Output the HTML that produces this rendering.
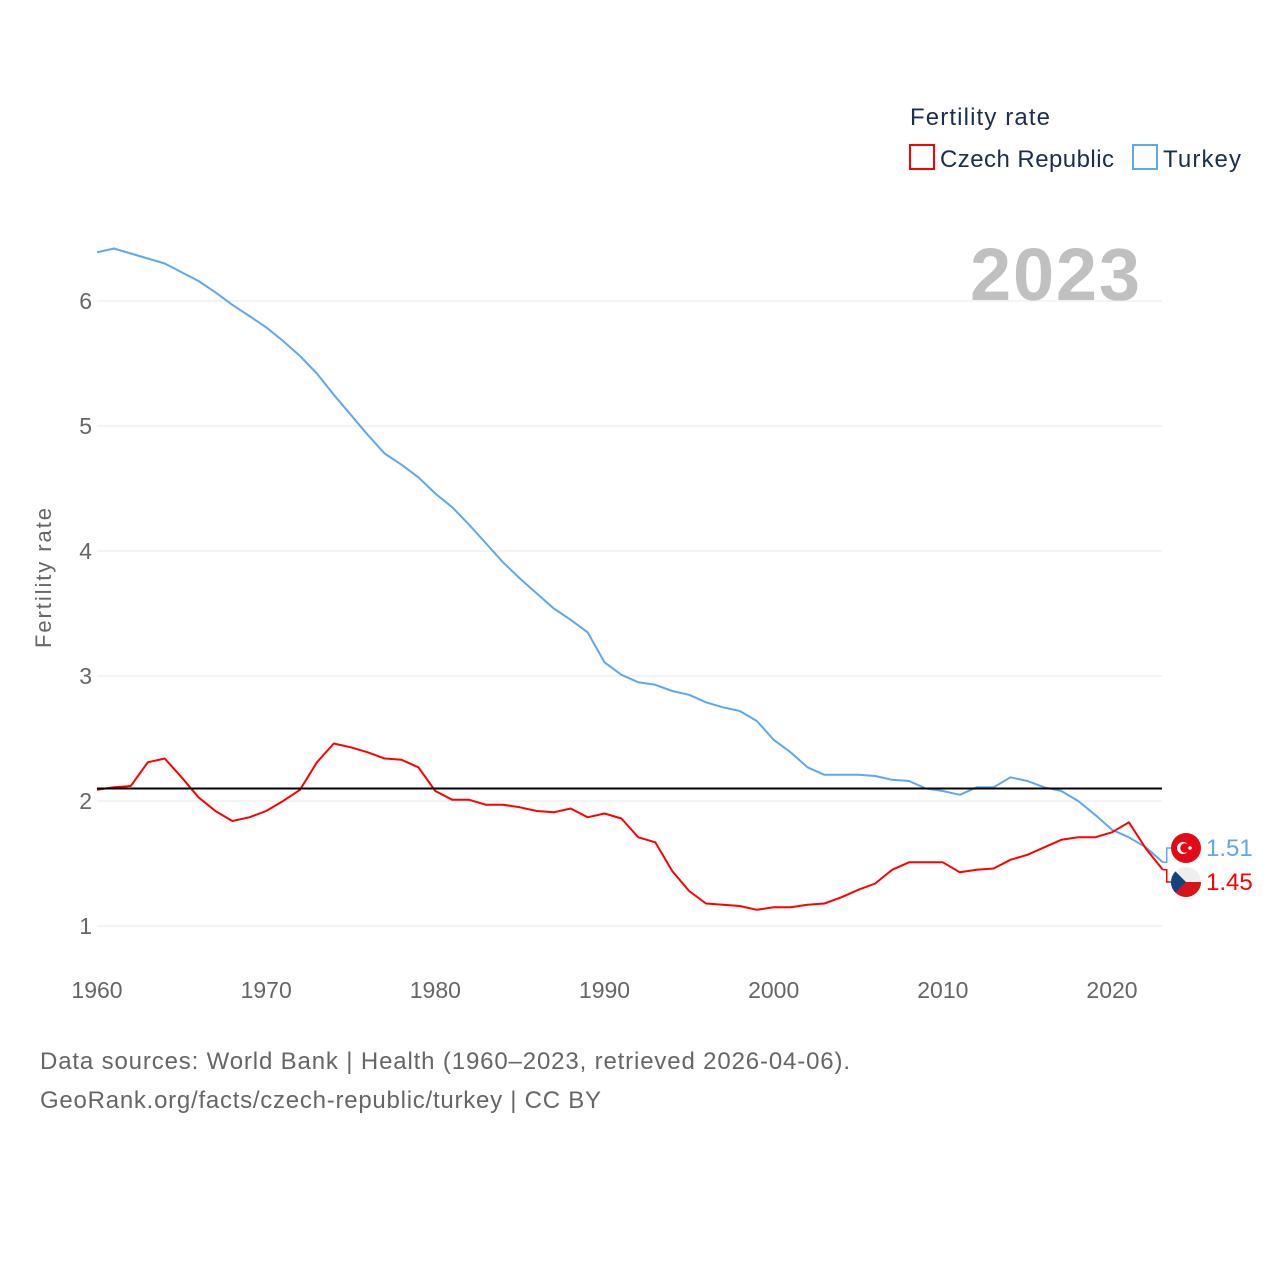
<!DOCTYPE html>
<html><head><meta charset="utf-8"><style>
html,body{margin:0;padding:0;background:#fff;width:1280px;height:1280px;overflow:hidden}
svg{display:block}
text{font-family:"Liberation Sans",sans-serif}
</style></head><body>
<svg id="chart" width="1280" height="1280">
<text x="910" y="125" font-size="24" fill="#1a2e4f" textLength="140">Fertility rate</text>
<rect x="910" y="145" width="24" height="24" fill="none" stroke="#ff0000" stroke-width="2"/>
<text x="940" y="167" font-size="24" fill="#1a2e4f" textLength="174">Czech Republic</text>
<rect x="1133" y="145" width="24" height="24" fill="none" stroke="#5ea8ec" stroke-width="2"/>
<text x="1163" y="167" font-size="24" fill="#1a2e4f" textLength="78">Turkey</text>
<text x="970" y="300" font-size="74" font-weight="bold" fill="#c0c0c0" textLength="170">2023</text>
<text transform="translate(51,578) rotate(-90)" font-size="22" fill="#666" text-anchor="middle" textLength="140">Fertility rate</text>
<g id="grid"></g><g id="lines"></g><g id="ends"></g>
<text x="40" y="1069" font-size="24" fill="#666" textLength="810">Data sources: World Bank | Health (1960–2023, retrieved 2026-04-06).</text>
<text x="40" y="1108" font-size="24" fill="#666" textLength="561">GeoRank.org/facts/czech-republic/turkey | CC BY</text>
</svg>
<script>
const years=[];for(let y=1960;y<=2023;y++)years.push(y);
const turkey=[6.39,6.42,6.38,6.34,6.30,6.23,6.16,6.07,5.97,5.88,5.79,5.68,5.56,5.42,5.25,5.09,4.93,4.78,4.69,4.59,4.46,4.35,4.21,4.06,3.91,3.78,3.66,3.54,3.45,3.35,3.11,3.01,2.95,2.93,2.88,2.85,2.79,2.75,2.72,2.64,2.49,2.39,2.27,2.21,2.21,2.21,2.20,2.17,2.16,2.10,2.08,2.05,2.11,2.11,2.19,2.16,2.11,2.08,2.00,1.89,1.77,1.71,1.63,1.51];
const czech=[2.09,2.11,2.12,2.31,2.34,2.19,2.03,1.92,1.84,1.87,1.92,2.00,2.09,2.31,2.46,2.43,2.39,2.34,2.33,2.27,2.08,2.01,2.01,1.97,1.97,1.95,1.92,1.91,1.94,1.87,1.90,1.86,1.71,1.67,1.44,1.28,1.18,1.17,1.16,1.13,1.15,1.15,1.17,1.18,1.23,1.29,1.34,1.45,1.51,1.51,1.51,1.43,1.45,1.46,1.53,1.57,1.63,1.69,1.71,1.71,1.75,1.83,1.62,1.45];
const yTicks=[1,2,3,4,5,6];
const xTicks=[1960,1970,1980,1990,2000,2010,2020];
const replacement=2.1;
const NS="http://www.w3.org/2000/svg";
const X=y=>97+(y-1960)*(1112-97)/60;
const Y=v=>926-(v-1)*125;
function mk(tag,attrs,parent){const e=document.createElementNS(NS,tag);for(const k in attrs)e.setAttribute(k,attrs[k]);document.getElementById(parent).appendChild(e);return e;}
yTicks.forEach(t=>{
 const l=mk('line',{x1:97,x2:1162,y1:Y(t),y2:Y(t),stroke:'#e8e8e8','stroke-width':1},'grid');
 
 
 const tx=mk('text',{x:92,y:Y(t)+8,'font-size':23,fill:'#666','text-anchor':'end'},'grid');tx.textContent=t;
 
 
});
xTicks.forEach(t=>{
 const tx=mk('text',{x:X(t),y:998,'font-size':23,fill:'#666','text-anchor':'middle'},'grid');tx.textContent=t;
 
 
});
function line(vals,color,name){
 const d=vals.map((v,i)=>(i?'L':'M')+X(years[i]).toFixed(1)+','+Y(v).toFixed(1)).join('');
 const p=mk('path',{d:d,fill:'none',stroke:color,'stroke-width':2,'stroke-linejoin':'round'},'lines');
 
 
}
line(turkey,'#5ea8ec','line-turkey');
line(czech,'#ff0000','line-czech-republic');
const rl=mk('line',{x1:97,x2:1162,y1:Y(replacement),y2:Y(replacement),stroke:'#000','stroke-width':2},'lines');


const n=years.length-1, ex=X(years[n]);
function endLabel(v,ly,color,name){
 const c=mk('path',{d:`M${ex},${Y(v)}H${ex+4}V${ly}H${ex+10}`,fill:'none',stroke:color,'stroke-width':1.5},'ends');
 
 
 const t=mk('text',{x:1206,y:ly+8,'font-size':24,fill:color},'ends');t.textContent=v.toFixed(2);
 
 
}
endLabel(turkey[n],848,'#5ea8ec','turkey');
endLabel(czech[n],882,'#ff0000','czech');
const g=document.getElementById('ends');
g.insertAdjacentHTML('beforeend',`
<g><circle cx="1186" cy="848" r="15" fill="#e30a17"/><circle cx="1183" cy="848" r="6" fill="#fff"/><circle cx="1185" cy="848" r="4.8" fill="#e30a17"/><circle cx="1190" cy="848" r="1.8" fill="#fff"/></g>
<g><clipPath id="cc"><circle cx="1186" cy="882" r="15"/></clipPath><g clip-path="url(#cc)"><rect x="1171" y="867" width="30" height="15" fill="#eee"/><rect x="1171" y="882" width="30" height="15" fill="#d7141a"/><path d="M1171,867L1186,882L1171,897Z" fill="#11457e"/></g></g>`);
</script>
</body></html>
